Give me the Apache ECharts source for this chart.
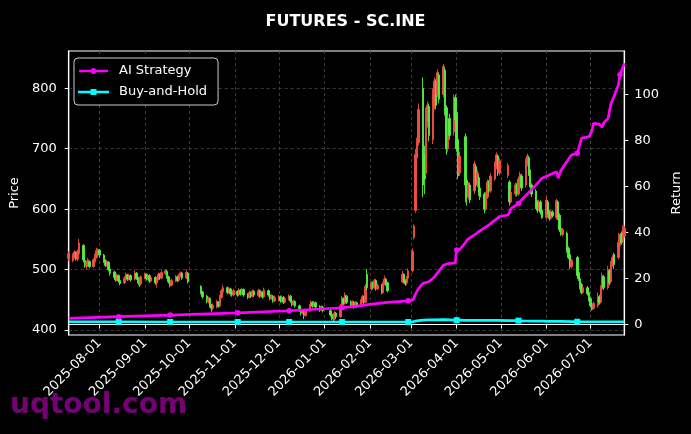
<!DOCTYPE html>
<html>
<head>
<meta charset="utf-8">
<script src="https://cdn.jsdelivr.net/npm/echarts@6/dist/echarts.min.js"></script>
<style>
html,body{margin:0;padding:0;background:#000;}
#chart{width:691px;height:434px;}
</style>
</head>
<body>
<div id="chart"></div>
<script>
// ---- trading calendar (month, trading days) ----
const tradingMonths = ["2025-07","2025-08","2025-09","2025-10","2025-11","2025-12","2026-01","2026-02","2026-03","2026-04","2026-05","2026-06","2026-07"];
const tradingDays = [
  [11,14,15,16,17,18,21,22,23,24,25,28,29,30,31],
  [1,4,5,6,7,8,11,12,13,14,15,18,19,20,21,22,25,26,27,28,29],
  [1,2,3,4,5,8,9,10,11,12,15,16,17,18,19,22,23,24,25,26,29,30],
  [9,10,13,14,15,16,17,20,21,22,23,24,27,28,29,30,31],
  [3,4,5,6,7,10,11,12,13,14,17,18,19,20,21,24,25,26,27,28],
  [1,2,3,4,5,8,9,10,11,12,15,16,17,18,19,22,23,24,25,26,29,30,31],
  [5,6,7,8,9,12,13,14,15,16,19,20,21,22,23,26,27,28,29,30],
  [2,3,4,5,6,9,10,11,12,13,23,24,25,26,27],
  [2,3,4,5,6,9,10,11,12,13,16,17,18,19,20,23,24,25,26,27,30,31],
  [1,2,3,7,8,9,10,13,14,15,16,17,20,21,22,23,24,27,28,29,30],
  [6,7,8,11,12,13,14,15,18,19,20,21,22,25,26,27,28,29],
  [1,2,3,4,5,8,9,10,11,12,15,16,17,18,22,23,24,25,26,29,30],
  [1,2,3,6,7,8,9,10,13,14,15,16,17,20,21,22,23,24]
];
// ---- daily candles [open, close, low, high] ----
const candles2025Jul = [[518,526,514,530],[515,524,512,527],[522,529,518,532],[527,518,515,530],[517,530,514,533],[526,544,522,551],[540,516,512,542],[515,507,503,518],[505,512,500,515],[508,516,505,519],[513,505,502,515],[505,516,503,519],[513,523,510,526],[520,531,518,536],[525,533,522,535]];
const candles2025Aug = [[532,524,520,534],[524,514,511,526],[515,507,504,517],[507,513,505,516],[512,500,497,514],[501,494,490,503],[496,487,484,498],[489,483,480,491],[483,491,481,494],[490,481,478,492],[482,477,474,484],[478,486,476,489],[485,492,483,495],[491,484,481,493],[484,490,482,493],[490,483,480,492],[484,494,482,499],[494,486,483,496],[487,480,477,489],[480,475,471,482],[476,488,474,490]];
const candles2025Sep = [[487,492,484,495],[492,485,482,494],[485,490,483,493],[490,481,478,492],[481,487,479,490],[487,478,475,489],[478,485,470,487],[484,492,482,495],[492,486,483,494],[486,495,484,500],[494,498,491,501],[497,488,485,499],[488,480,477,490],[481,474,471,483],[474,482,472,485],[481,488,479,491],[488,482,479,490],[482,490,480,493],[489,494,487,497],[494,486,483,496],[486,495,484,500],[494,480,477,496]];
const candles2025Oct = [[472,462,459,474],[463,455,452,465],[456,447,444,458],[447,452,444,455],[452,440,437,454],[441,436,430,443],[436,441,433,444],[438,447,436,450],[446,440,437,448],[440,455,438,458],[454,465,452,468],[463,470,461,474],[470,462,459,472],[462,468,460,471],[468,460,457,470],[462,458,455,464],[458,465,456,468]];
const candles2025Nov = [[464,458,455,466],[458,466,456,469],[466,460,457,468],[460,467,458,470],[467,458,455,469],[459,454,451,461],[454,462,452,465],[462,456,453,464],[456,464,454,467],[464,458,455,466],[457,465,455,468],[465,456,453,467],[456,462,454,465],[462,455,452,464],[455,466,453,470],[465,458,455,467],[458,452,449,460],[452,456,450,459],[456,448,445,458],[448,454,446,457]];
const candles2025Dec = [[449,455,447,458],[455,448,445,457],[448,454,446,457],[454,446,443,456],[446,452,444,455],[452,456,449,459],[456,448,445,458],[448,442,439,450],[442,447,440,450],[447,440,437,449],[440,433,430,442],[434,428,424,436],[428,432,426,435],[432,424,418,434],[424,432,422,435],[432,440,430,443],[439,446,437,449],[446,440,437,448],[440,445,438,448],[445,438,435,447],[439,433,430,441],[433,438,431,441],[438,432,429,440]];
const candles2026Jan = [[432,425,422,434],[426,420,416,428],[421,418,413,424],[418,428,416,431],[428,422,419,430],[422,440,420,443],[440,452,438,456],[452,444,441,454],[444,458,442,462],[456,446,443,458],[447,440,437,449],[440,446,438,449],[446,438,435,448],[438,445,436,448],[445,440,437,447],[440,448,438,451],[447,455,445,458],[455,446,443,457],[446,472,444,476],[492,470,466,501]];
const candles2026Feb = [[468,478,465,481],[478,470,467,480],[470,482,468,485],[482,468,465,484],[468,474,466,477],[474,462,459,476],[462,476,460,479],[476,484,474,490],[484,476,473,486],[478,465,462,480],[480,492,478,498],[492,480,477,494],[482,476,473,484],[478,486,475,489],[486,498,484,502]];
const candles2026Mar = [[498,530,495,535],[553,572,550,575],[598,690,594,700],[685,712,672,718],[710,765,705,775],[800,640,620,818],[690,650,625,705],[660,755,655,768],[745,772,735,778],[770,722,712,775],[715,790,708,800],[770,812,765,818],[810,772,765,815],[790,826,785,832],[822,782,775,826],[790,836,785,840],[830,762,755,834],[768,700,690,772],[700,748,695,755],[750,722,715,758],[728,785,722,790],[785,748,742,790]];
const candles2026Apr = [[760,700,695,770],[715,655,650,725],[660,688,655,695],[720,640,611,725],[648,620,606,652],[620,640,616,645],[640,615,610,644],[630,675,625,680],[670,640,636,674],[640,660,636,664],[652,628,622,656],[635,620,615,638],[625,600,593,628],[600,625,597,629],[620,645,617,649],[645,630,626,648],[630,655,627,660],[650,675,647,679],[670,690,666,694],[688,660,655,690],[660,680,656,684]];
const candles2026May = [[656,672,652,676],[645,612,606,648],[612,628,609,632],[625,640,621,644],[640,625,621,643],[625,650,622,654],[648,658,644,662],[655,635,630,658],[640,680,636,684],[675,688,671,692],[685,660,655,688],[665,640,636,668],[640,625,620,643],[630,605,600,633],[612,598,594,615],[600,612,597,616],[612,595,591,615],[598,586,584,601]];
const candles2026Jun = [[586,615,583,622],[612,595,592,615],[595,585,581,598],[585,596,582,599],[595,589,586,598],[586,614,583,617],[612,586,582,614],[590,566,562,593],[568,558,556,571],[558,566,555,569],[560,532,528,563],[535,520,517,538],[525,505,501,528],[505,515,502,518],[520,490,485,523],[495,485,481,498],[485,470,467,488],[475,462,459,478],[462,470,460,473],[470,460,457,473],[462,450,447,465]];
const candles2026Jul = [[452,440,437,455],[442,434,432,445],[436,444,434,447],[440,455,437,462],[455,445,442,458],[446,470,444,474],[468,490,465,495],[488,470,466,491],[470,500,467,506],[498,478,474,501],[480,510,477,514],[508,520,505,524],[525,508,501,528],[520,545,517,561],[540,555,537,559],[560,545,541,563],[548,565,545,573],[556,568,553,572]];
const candleMonths = [candles2025Jul,candles2025Aug,candles2025Sep,candles2025Oct,candles2025Nov,candles2025Dec,candles2026Jan,candles2026Feb,candles2026Mar,candles2026Apr,candles2026May,candles2026Jun,candles2026Jul];

// ---- cumulative return lines (%) ----
const lineDates = ["2025-07-11","2025-08-14","2025-09-18","2025-11-03","2025-12-08","2026-01-13","2026-01-22","2026-02-02","2026-02-13","2026-02-27","2026-03-02","2026-03-03","2026-03-04","2026-03-05","2026-03-06","2026-03-09","2026-03-13","2026-03-17","2026-03-23","2026-03-27","2026-03-31","2026-04-01","2026-04-03","2026-04-07","2026-04-08","2026-04-15","2026-04-23","2026-04-30","2026-05-06","2026-05-08","2026-05-13","2026-05-15","2026-05-25","2026-05-29","2026-06-03","2026-06-08","2026-06-09","2026-06-11","2026-06-18","2026-06-22","2026-06-25","2026-06-30","2026-07-02","2026-07-03","2026-07-07","2026-07-09","2026-07-10","2026-07-13","2026-07-14","2026-07-15","2026-07-17","2026-07-20","2026-07-21","2026-07-23","2026-07-24"];
const aiReturn = [2.6,3.3,4.0,5.0,5.9,7.2,7.8,8.8,9.5,10.2,10.5,11.5,13.2,14.0,15.5,17.8,18.5,20.7,25.8,26.5,26.7,32.3,32.5,35.5,36.7,39.8,43.2,46.8,47.5,50.4,52.5,54.0,60.6,63.5,64.9,66.3,63.5,67.0,73.6,74.3,80.9,81.6,84.0,87.4,87.0,85.6,87.5,89.5,93.0,96.1,99.0,104.0,108.5,111.5,113.5];
const bhReturn = [1.1,1.1,1.0,1.0,1.0,1.0,1.0,1.0,1.0,1.0,1.1,1.2,1.4,1.5,1.6,1.8,1.9,1.9,2.0,1.9,1.8,1.8,1.8,1.7,1.7,1.7,1.7,1.7,1.6,1.6,1.6,1.5,1.4,1.4,1.3,1.3,1.3,1.3,1.2,1.1,1.1,1.1,1.1,1.1,1.1,1.1,1.1,1.1,1.1,1.1,1.1,1.1,1.1,1.1,1.1];
const aiMarkerDates = ["2025-08-14","2025-09-18","2025-11-03","2025-12-08","2026-01-13","2026-02-27","2026-04-01","2026-05-13","2026-06-22","2026-07-21"];
const bhMarkerDates = ["2025-08-14","2025-09-18","2025-11-03","2025-12-08","2026-01-13","2026-02-27","2026-04-01","2026-05-13","2026-06-22"];

// ---- axis ticks ----
const monthTicks = ["2025-08-01","2025-09-01","2025-10-01","2025-11-01","2025-12-01","2026-01-01","2026-02-01","2026-03-01","2026-04-01","2026-05-01","2026-06-01","2026-07-01"];
const priceTicks = [400,500,600,700,800];
const returnTicks = [0,20,40,60,80,100];

// ---- build series data ----
const candleData = [];
tradingMonths.forEach((m, i) => {
  tradingDays[i].forEach((d, j) => {
    const c = candleMonths[i][j];
    candleData.push([m + '-' + String(d).padStart(2, '0'), c[0], c[1], c[2], c[3]]);
  });
});
function lineData(values, markers) {
  return lineDates.map((d, i) => markers.indexOf(d) >= 0
    ? { value: [d, values[i]] }
    : { value: [d, values[i]], symbol: 'none' });
}
const ts = s => new Date(s + 'T00:00:00').getTime();

// legend icons: line with a small marker in the middle (path in a 31x6 box)
const iconCircle = 'path://M0,1.7H12.7A3,3 0 0,1 18.3,1.7H31V4.3H18.3A3,3 0 0,1 12.7,4.3H0Z';
const iconSquare = 'path://M0,1.7H12.5V0H18.5V1.7H31V4.3H18.5V6H12.5V4.3H0Z';

const FONT = 'DejaVu Sans';
const chart = echarts.init(document.getElementById('chart'), null, { renderer: 'canvas' });
chart.setOption({
  backgroundColor: '#000',
  animation: false,
  title: {
    text: 'FUTURES - SC.INE', left: 'center', top: 9,
    textStyle: { color: '#fff', fontSize: 16, fontWeight: 'bold', fontFamily: FONT }
  },
  legend: {
    orient: 'vertical', left: 74, top: 58,
    padding: [5, 11, 5, 4], itemGap: 5, itemWidth: 31, itemHeight: 6,
    borderColor: '#cccccc', borderWidth: 1, borderRadius: 4,
    backgroundColor: 'rgba(0,0,0,0.85)',
    textStyle: { color: '#fff', fontSize: 13, fontFamily: FONT, padding: [0, 0, 0, 5], lineHeight: 16 },
    data: [
      { name: 'AI Strategy', icon: iconCircle },
      { name: 'Buy-and-Hold', icon: iconSquare }
    ]
  },
  grid: {
    left: 67.5, right: 65.3, top: 51, bottom: 99,
    show: true, borderColor: '#ffffff', borderWidth: 1.2, backgroundColor: 'transparent'
  },
  xAxis: {
    type: 'time',
    min: ts('2025-07-11'), max: ts('2026-07-24'),
    splitNumber: 12,
    axisLine: { show: true, lineStyle: { color: '#fff', width: 1.2 } },
    axisTick: { show: true, length: 4, lineStyle: { color: '#fff' }, customValues: monthTicks.map(ts) },
    axisLabel: {
      color: '#fff', fontSize: 13, fontFamily: FONT, rotate: 45, margin: 6,
      customValues: monthTicks.map(ts),
      formatter: '{yyyy}-{MM}-{dd}'
    },
    splitLine: { show: true, lineStyle: { color: '#4a4a4a', type: [3, 3], width: 0.8 } }
  },
  yAxis: [
    {
      type: 'value', position: 'left', min: 391.7, max: 861.8,
      name: 'Price', nameLocation: 'middle', nameGap: 45, nameRotate: 90,
      nameTextStyle: { color: '#fff', fontSize: 13, fontFamily: FONT },
      axisLine: { show: true, lineStyle: { color: '#fff', width: 1.2 } },
      axisTick: { show: true, length: 4, lineStyle: { color: '#fff' }, customValues: priceTicks },
      axisLabel: { color: '#fff', fontSize: 13, fontFamily: FONT, margin: 12, customValues: priceTicks },
      splitLine: { show: true, lineStyle: { color: '#4a4a4a', type: [3, 3], width: 0.8 } }
    },
    {
      type: 'value', position: 'right', min: -4.65, max: 118.8,
      name: 'Return', nameLocation: 'middle', nameGap: 42, nameRotate: 90,
      nameTextStyle: { color: '#fff', fontSize: 13, fontFamily: FONT },
      axisLine: { show: true, lineStyle: { color: '#fff', width: 1.2 } },
      axisTick: { show: true, length: 4, lineStyle: { color: '#fff' }, customValues: returnTicks },
      axisLabel: { color: '#fff', fontSize: 13, fontFamily: FONT, margin: 10, customValues: returnTicks },
      splitLine: { show: false }
    }
  ],
  series: [
    {
      name: 'Price', type: 'candlestick', yAxisIndex: 0,
      data: candleData, encode: { x: 0, y: [1, 2, 3, 4] },
      barWidth: 2,
      itemStyle: {
        color: '#f0503f', color0: '#55ee3f',
        borderColor: '#f0503f', borderColor0: '#55ee3f', borderWidth: 0.9
      },
      z: 2
    },
    {
      name: 'Buy-and-Hold', type: 'line', yAxisIndex: 1,
      data: lineData(bhReturn, bhMarkerDates),
      symbol: 'rect', symbolSize: 6, showSymbol: true,
      lineStyle: { color: '#00ffff', width: 2.7 }, itemStyle: { color: '#00ffff' },
      z: 3
    },
    {
      name: 'AI Strategy', type: 'line', yAxisIndex: 1,
      data: lineData(aiReturn, aiMarkerDates),
      symbol: 'circle', symbolSize: 5.5, showSymbol: true,
      lineStyle: { color: '#ff00ff', width: 2.7 }, itemStyle: { color: '#ff00ff' },
      z: 4
    }
  ],
  graphic: [{
    type: 'text', left: 10, top: 392, z: 100,
    style: { text: 'uqtool.com', fill: 'rgba(128,0,128,0.92)', font: 'bold 28px "DejaVu Sans"' }
  }]
});
</script>
</body>
</html>
